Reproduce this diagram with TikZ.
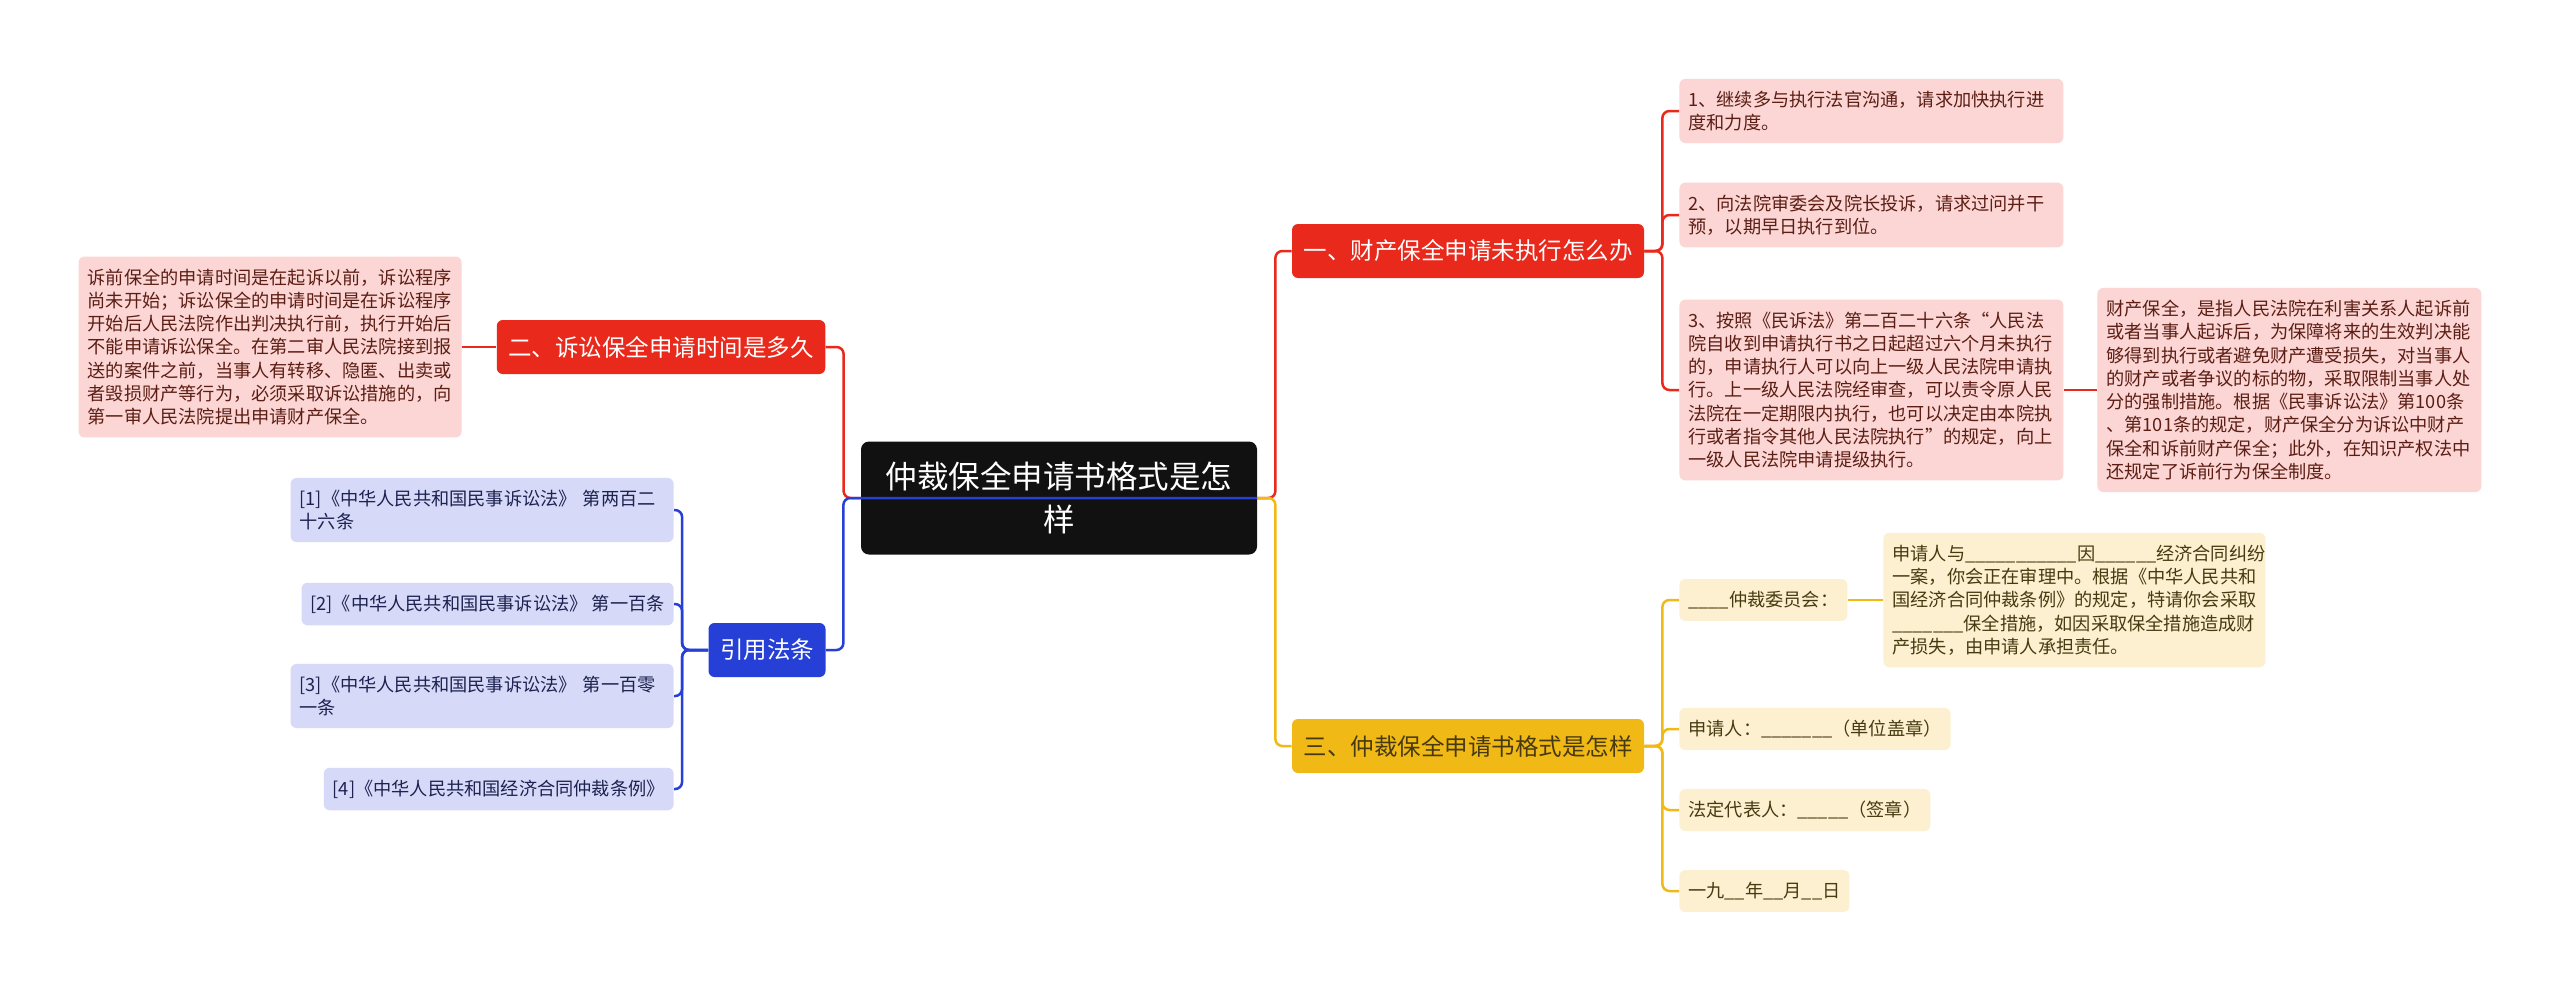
\documentclass[tikz,border=0pt]{standalone}
\usepackage{fontspec}
\newfontfamily\cjk{Noto Sans CJK SC}
\definecolor{wurzel}{RGB}{17,17,17}
\definecolor{astrot}{RGB}{232,41,27}
\definecolor{astblau}{RGB}{37,63,215}
\definecolor{astgelb}{RGB}{240,185,22}
\definecolor{blattrot}{RGB}{251,214,212}
\definecolor{blattblau}{RGB}{214,218,248}
\definecolor{blattgelb}{RGB}{252,240,208}
\definecolor{rottext}{RGB}{92,30,20}
\definecolor{blautext}{RGB}{29,34,80}
\definecolor{gelbtext}{RGB}{72,58,16}
\tikzset{
	ast/.style={rounded corners=3pt, inner xsep=5.75pt, minimum height=27pt,
		font=\cjk\fontsize{11.75}{14}\selectfont},
	blatt/.style={rounded corners=3pt, inner xsep=4.5pt, inner ysep=6pt,
		align=left, font=\cjk\fontsize{9.1}{11.65}\selectfont},
	linie/.style={line width=1.25pt, rounded corners=3.5pt},
}
\begin{document}
\begin{tikzpicture}[x=0.5pt, y=-0.5pt]
	\fill[white] (0,0) rectangle (2560,991);
	\useasboundingbox (0,0) rectangle (2560,991);
	% Mitte
	\node[fill=wurzel, text=white, rounded corners=4pt, minimum width=198pt,
	minimum height=56.5pt, align=center,
	font=\cjk\fontsize{15.75}{21.7}\selectfont] (root) at (1059,498)
	{仲裁保全申请书格式是怎\\样};
	% Hauptaeste
	\node[ast, fill=astrot, text=white] (eins) at (1468,251)
	{一、财产保全申请未执行怎么办};
	\node[ast, fill=astrot, text=white] (zwei) at (661,347)
	{二、诉讼保全申请时间是多久};
	\node[ast, fill=astgelb, text=gelbtext] (drei) at (1468,746)
	{三、仲裁保全申请书格式是怎样};
	\node[ast, fill=astblau, text=white] (zitat) at (767,650) {引用法条};
	\draw[linie, astrot] (root.west) -- ++(-17,0) |- (zwei.east);
	\draw[linie, astblau] (root.east) -- ++(-414,0) |- (zitat.east);
	\draw[linie, astrot] (root.east) -- ++(18,0) |- (eins.west);
	\draw[linie, astgelb] (root.east) -- ++(18,0) |- (drei.west);

	% Blaetter rot rechts
	\node[blatt, fill=blattrot, text=rottext, text width=183pt, anchor=west]
	(c1) at (1679,111)
	{1、继续多与执行法官沟通，请求加快执行进\\度和力度。};
	\node[blatt, fill=blattrot, text=rottext, text width=183pt, anchor=west]
	(c2) at (1679,215)
	{2、向法院审委会及院长投诉，请求过问并干\\预，以期早日执行到位。};
	\node[blatt, fill=blattrot, text=rottext, text width=183pt, anchor=west]
	(c3) at (1679,390)
	{3、按照《民诉法》第二百二十六条“人民法\\
	院自收到申请执行书之日起超过六个月未执行\\
	的，申请执行人可以向上一级人民法院申请执\\
	行。上一级人民法院经审查，可以责令原人民\\
	法院在一定期限内执行，也可以决定由本院执\\
	行或者指令其他人民法院执行”的规定，向上\\
	一级人民法院申请提级执行。};
	\node[blatt, fill=blattrot, text=rottext, text width=183pt, anchor=west]
	(c3k) at (2097,390)
	{财产保全，是指人民法院在利害关系人起诉前\\
	或者当事人起诉后，为保障将来的生效判决能\\
	够得到执行或者避免财产遭受损失，对当事人\\
	的财产或者争议的标的物，采取限制当事人处\\
	分的强制措施。根据《民事诉讼法》第100条\\
	、第101条的规定，财产保全分为诉讼中财产\\
	保全和诉前财产保全；此外，在知识产权法中\\
	还规定了诉前行为保全制度。};
	\foreach \n in {c1,c2,c3}
		\draw[linie, astrot] (eins.east) -- ++(18,0) |- (\n.west);
	\draw[linie, astrot] (c3.east) -- (c3k.west);

	% Blatt rot links
	\node[blatt, fill=blattrot, text=rottext, text width=182.5pt, anchor=east]
	(links) at (462,347)
	{诉前保全的申请时间是在起诉以前，诉讼程序\\
	尚未开始；诉讼保全的申请时间是在诉讼程序\\
	开始后人民法院作出判决执行前，执行开始后\\
	不能申请诉讼保全。在第二审人民法院接到报\\
	送的案件之前，当事人有转移、隐匿、出卖或\\
	者毁损财产等行为，必须采取诉讼措施的，向\\
	第一审人民法院提出申请财产保全。};
	\draw[linie, astrot] (zwei.west) -- (links.east);

	% Blaetter blau
	\node[blatt, fill=blattblau, text=blautext, text width=182.5pt, anchor=east]
	(b1) at (674,510)
	{[1]《中华人民共和国民事诉讼法》 第两百二\\十六条};
	\node[blatt, fill=blattblau, text=blautext, anchor=east] (b2) at (674,604)
	{[2]《中华人民共和国民事诉讼法》 第一百条};
	\node[blatt, fill=blattblau, text=blautext, text width=182.5pt, anchor=east]
	(b3) at (674,696)
	{[3]《中华人民共和国民事诉讼法》 第一百零\\一条};
	\node[blatt, fill=blattblau, text=blautext, anchor=east] (b4) at (674,789)
	{[4]《中华人民共和国经济合同仲裁条例》};
	\foreach \n in {b1,b2,b3,b4}
		\draw[linie, astblau] (zitat.west) -- ++(-26,0) |- (\n.east);

	% Blaetter gelb
	\node[blatt, fill=blattgelb, text=gelbtext, anchor=west] (y0) at (1679,600)
	{\_\_\_\_仲裁委员会：};
	\node[blatt, fill=blattgelb, text=gelbtext, text width=182pt, anchor=west]
	(y1) at (1883,600)
	{申请人与\_\_\_\_\_\_\_\_\_\_\_因\_\_\_\_\_\_经济合同纠纷\\
	一案，你会正在审理中。根据《中华人民共和\\
	国经济合同仲裁条例》的规定，特请你会采取\\
	\_\_\_\_\_\_\_保全措施，如因采取保全措施造成财\\
	产损失，由申请人承担责任。};
	\node[blatt, fill=blattgelb, text=gelbtext, anchor=west] (y2) at (1679,729)
	{申请人：\_\_\_\_\_\_\_（单位盖章）};
	\node[blatt, fill=blattgelb, text=gelbtext, anchor=west] (y3) at (1679,810)
	{法定代表人：\_\_\_\_\_（签章）};
	\node[blatt, fill=blattgelb, text=gelbtext, anchor=west] (y4) at (1679,891)
	{一九\_\_年\_\_月\_\_日};
	\foreach \n in {y0,y2,y3,y4}
		\draw[linie, astgelb] (drei.east) -- ++(18,0) |- (\n.west);
	\draw[linie, astgelb] (y0.east) -- (y1.west);
\end{tikzpicture}
\end{document}
